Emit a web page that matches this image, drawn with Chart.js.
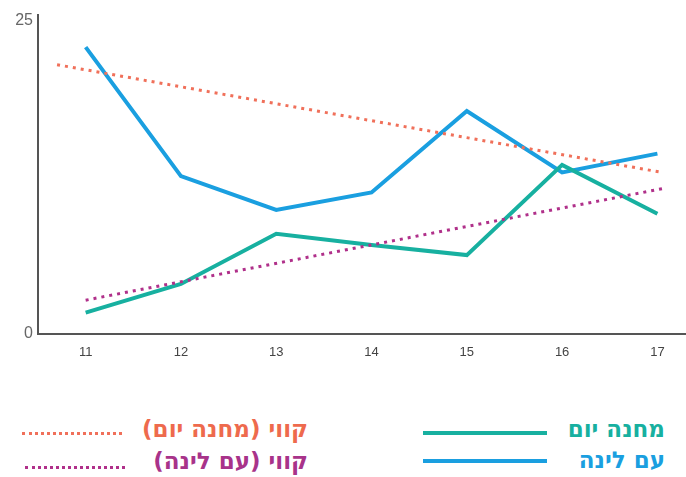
<!DOCTYPE html>
<html>
<head>
<meta charset="utf-8">
<script src="https://cdn.jsdelivr.net/npm/chart.js@4"></script>
<style>
  body { margin: 0; background: #fff; width: 686px; height: 477px; overflow: hidden; position: relative; }
  #chart-container { position: absolute; left: 0; top: 0; width: 686px; height: 372px; }
  .leg { position: absolute; font-family: "DejaVu Sans", "Liberation Sans", sans-serif; font-weight: bold; font-size: 23px; line-height: 26px; direction: rtl; white-space: nowrap; }
  .ln { position: absolute; height: 0; }
</style>
</head>
<body>
<div id="chart-container"><canvas id="chart"></canvas></div>

<div class="ln" style="left:423px; top:431px; width:124px; border-top:4px solid #17b0a0;"></div>
<div class="ln" style="left:423px; top:459px; width:124px; border-top:4px solid #1a9fe0;"></div>
<div class="leg" style="right:21px; top:416px; color:#17b0a0;">מחנה יום</div>
<div class="leg" style="right:21px; top:447px; color:#1a9fe0;">עם לינה</div>

<div class="ln" style="left:22px; top:432px; width:100px; border-top:3px dotted #f0705a;"></div>
<div class="ln" style="left:25px; top:466px; width:100px; border-top:3px dotted #b0308a;"></div>
<div class="leg" style="right:378px; top:416px; color:#ee6a4d;">קווי (מחנה יום)</div>
<div class="leg" style="right:378px; top:448px; color:#a8338a;">קווי (עם לינה)</div>

<script>
const years = [11, 12, 13, 14, 15, 16, 17];
const dayCamp = [1.7, 4.0, 8.0, 7.1, 6.3, 13.5, 9.6];
const overnight = [22.9, 12.6, 9.9, 11.3, 17.8, 12.9, 14.4];
// trend line end points [x, y]
const trendA = [[10.7, 21.5], [17.05, 12.9]];
const trendB = [[11, 2.7], [17.05, 11.6]];
const yTicks = [0, 25];

const toPts = (xs, ys) => xs.map((x, i) => ({ x: x, y: ys[i] }));
const pairPts = (arr) => arr.map((p) => ({ x: p[0], y: p[1] }));

new Chart(document.getElementById("chart"), {
  type: "line",
  data: {
    datasets: [
      {
        label: "קווי (מחנה יום)",
        data: pairPts(trendA),
        borderColor: "#f0705a",
        borderWidth: 3,
        borderDash: [3, 5],
        pointRadius: 0,
      },
      {
        label: "קווי (עם לינה)",
        data: pairPts(trendB),
        borderColor: "#b0308a",
        borderWidth: 3,
        borderDash: [3, 5],
        pointRadius: 0,
      },
      {
        label: "מחנה יום",
        data: toPts(years, dayCamp),
        borderColor: "#17b0a0",
        borderWidth: 4,
        pointRadius: 0,
      },
      {
        label: "עם לינה",
        data: toPts(years, overnight),
        borderColor: "#1a9fe0",
        borderWidth: 4,
        pointRadius: 0,
      },
    ],
  },
  options: {
    responsive: true,
    maintainAspectRatio: false,
    animation: false,
    layout: { padding: { top: 8, right: 0, left: 0, bottom: 0 } },
    plugins: { legend: { display: false }, tooltip: { enabled: false } },
    scales: {
      x: {
        type: "linear",
        min: 10.5,
        max: 17.3,
        grid: { color: "transparent", drawTicks: false },
        border: { color: "#555", width: 2 },
        afterBuildTicks: (s) => { s.ticks = years.map((v) => ({ value: v })); },
        afterFit: (s) => { s.height = 38; },
        ticks: {
          padding: 11,
          color: "#444",
          font: { family: "'Liberation Sans Narrow', 'Liberation Sans', sans-serif", size: 13 },
        },
      },
      y: {
        min: 0,
        max: 25.5,
        grid: { color: "transparent", drawTicks: false },
        border: { color: "#555", width: 2 },
        afterBuildTicks: (s) => { s.ticks = yTicks.map((v) => ({ value: v })); },
        afterFit: (s) => { s.width = 38; },
        ticks: {
          padding: 5,
          color: "#666",
          font: { family: "'Liberation Sans', sans-serif", size: 16 },
        },
      },
    },
  },
});
</script>
</body>
</html>
